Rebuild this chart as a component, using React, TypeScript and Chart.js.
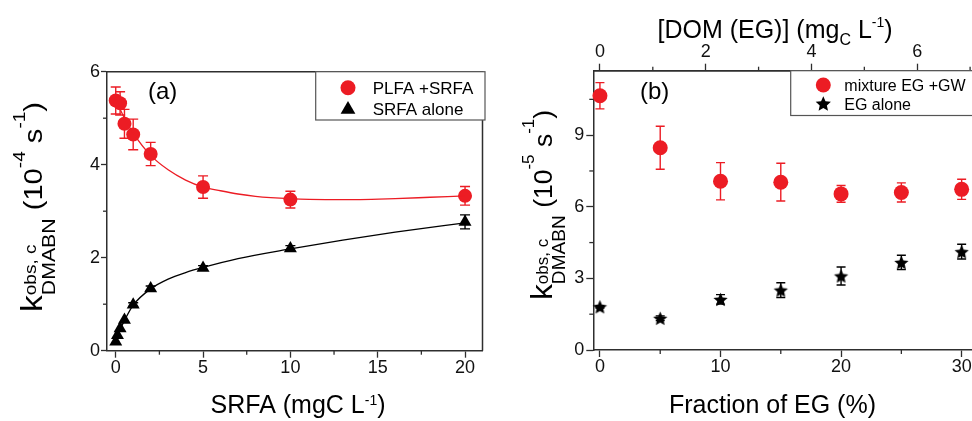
import { useEffect, useRef } from 'react';
import { Chart, registerables } from 'chart.js';

Chart.register(...registerables);

const FONT = '"Liberation Sans", Arial, Helvetica, sans-serif';
Chart.defaults.font.family = FONT;
Chart.defaults.color = '#111';

const RED = '#EC1C24';
const INK = '#000000';
const AXIS = '#2e2e2e';
const H = 421;

// ---------- Panel (a) ----------
const A_PLFA_X = [0, 0.25, 0.5, 1, 2, 5, 10, 20];
const A_PLFA_Y = [5.38, 5.32, 4.88, 4.65, 4.23, 3.52, 3.25, 3.33];
const A_PLFA_ERR = [0.29, 0.25, 0.31, 0.33, 0.25, 0.24, 0.18, 0.2];
const A_SRFA_X = [0, 0.1, 0.25, 0.5, 1, 2, 5, 10, 20];
const A_SRFA_Y = [0.19, 0.33, 0.48, 0.66, 0.99, 1.34, 1.78, 2.2, 2.77];
const A_SRFA_ERR = [0, 0, 0, 0, 0.04, 0.05, 0.05, 0.06, 0.15];
const A_FIT_RED_X = [0, 0.5, 1, 2, 3, 4, 5, 6, 7, 8, 10, 12, 14, 16, 18, 20];
const A_FIT_RED_Y = [5.4, 5.0, 4.68, 4.2, 3.89, 3.67, 3.52, 3.44, 3.37, 3.32, 3.27, 3.25, 3.25, 3.27, 3.3, 3.33];
const A_FIT_BLK_X = [0, 0.25, 0.5, 1, 2, 3, 4, 5, 7, 10, 13, 16, 20];
const A_FIT_BLK_Y = [0.17, 0.45, 0.65, 0.98, 1.33, 1.54, 1.68, 1.79, 1.98, 2.19, 2.38, 2.55, 2.75];
const A_X_TICKS = [0, 5, 10, 15, 20];
const A_X_MINOR = [2.5, 7.5, 12.5, 17.5];
const A_Y_TICKS = [0, 2, 4, 6];
const A_Y_MINOR = [1, 3, 5];

// ---------- Panel (b) ----------
const B_FRACTION = [0, 5, 10, 15, 20, 25, 30];
const B_MIX_Y = [10.65, 8.47, 7.07, 7.03, 6.54, 6.6, 6.73];
const B_MIX_ERR = [0.55, 0.9, 0.78, 0.79, 0.35, 0.4, 0.42];
const B_EG_Y = [1.81, 1.33, 2.12, 2.51, 3.1, 3.67, 4.12];
const B_EG_ERR = [0.05, 0.1, 0.2, 0.31, 0.38, 0.3, 0.31];
const B_X_TICKS = [0, 10, 20, 30];
const B_X_MINOR = [5, 15, 25];
const B_Y_TICKS = [0, 3, 6, 9];
const B_Y_MINOR = [1.5, 4.5, 7.5, 10.5];
const B_TOP_TICKS = [0, 2, 4, 6];
const B_TOP_MINOR = [1, 3, 5, 7];
const B_TOP_RATIO = 0.228; // mgC/L of DOM per % of EG

const pts = (xs: number[], ys: number[]) => xs.map((x, i) => ({ x, y: ys[i] }));

function starPath(ctx: CanvasRenderingContext2D, cx: number, cy: number, R: number, r: number) {
  ctx.beginPath();
  for (let i = 0; i < 10; i++) {
    const ang = -Math.PI / 2 + (i * Math.PI) / 5;
    const rad = i % 2 === 0 ? R : r;
    const px = cx + rad * Math.cos(ang);
    const py = cy + rad * Math.sin(ang);
    if (i === 0) ctx.moveTo(px, py);
    else ctx.lineTo(px, py);
  }
  ctx.closePath();
}

function makeStar(R: number, color: string) {
  const size = Math.ceil(R * 2 + 2);
  const c = document.createElement('canvas');
  c.width = size;
  c.height = size;
  const ctx = c.getContext('2d')!;
  starPath(ctx, size / 2, size / 2 + R * 0.1, R, R * 0.47);
  ctx.fillStyle = color;
  ctx.fill();
  return c;
}

type Seg =
  | { t: string; size: number; dy?: number }
  | { sup: string; sub: string; supSize: number; subSize: number; supDy: number; subDy: number };

function drawRich(ctx: CanvasRenderingContext2D, segs: Seg[], x: number, y: number, rot: number, sx: number) {
  ctx.save();
  ctx.translate(x, y);
  ctx.rotate(rot);
  ctx.scale(sx, 1);
  ctx.textAlign = 'left';
  ctx.textBaseline = 'alphabetic';
  ctx.fillStyle = '#000';
  const widths = segs.map((s: any) => {
    if ('t' in s) {
      ctx.font = `${s.size}px ${FONT}`;
      return ctx.measureText(s.t).width;
    }
    ctx.font = `${s.supSize}px ${FONT}`;
    const a = ctx.measureText(s.sup).width;
    ctx.font = `${s.subSize}px ${FONT}`;
    const b = ctx.measureText(s.sub).width;
    return Math.max(a, b);
  });
  const total = widths.reduce((p, c) => p + c, 0);
  let cx = -total / 2;
  segs.forEach((s: any, i) => {
    if ('t' in s) {
      ctx.font = `${s.size}px ${FONT}`;
      ctx.fillText(s.t, cx, s.dy || 0);
    } else {
      ctx.font = `${s.supSize}px ${FONT}`;
      ctx.fillText(s.sup, cx, s.supDy);
      ctx.font = `${s.subSize}px ${FONT}`;
      ctx.fillText(s.sub, cx, s.subDy);
    }
    cx += widths[i];
  });
  ctx.restore();
}

function drawMarker(ctx: CanvasRenderingContext2D, kind: string, x: number, y: number, r: number, color: string) {
  ctx.save();
  ctx.fillStyle = color;
  if (kind === 'circle') {
    ctx.beginPath();
    ctx.arc(x, y, r, 0, Math.PI * 2);
    ctx.fill();
  } else if (kind === 'triangle') {
    ctx.beginPath();
    for (let i = 0; i < 3; i++) {
      const a = (i * 2 * Math.PI) / 3;
      const px = x + Math.sin(a) * r;
      const py = y - Math.cos(a) * r;
      if (i === 0) ctx.moveTo(px, py);
      else ctx.lineTo(px, py);
    }
    ctx.closePath();
    ctx.fill();
  } else {
    starPath(ctx, x, y + r * 0.1, r, r * 0.47);
    ctx.fill();
  }
  ctx.restore();
}

function decor(id: string, spec: any) {
  return {
    id,
    beforeDatasetsDraw(chart: any) {
      const ctx = chart.ctx;
      ctx.save();
      spec.errors.forEach((e: any) => {
        const ds = chart.data.datasets[e.ds];
        const xs = chart.scales.x;
        const ys = chart.scales.y;
        ctx.strokeStyle = e.color;
        ctx.lineWidth = 1.4;
        ds.data.forEach((p: any, i: number) => {
          const err = e.err[i];
          if (!err) return;
          const px = xs.getPixelForValue(p.x);
          const y1 = ys.getPixelForValue(p.y + err);
          const y2 = ys.getPixelForValue(p.y - err);
          ctx.beginPath();
          ctx.moveTo(px, y1);
          ctx.lineTo(px, y2);
          ctx.moveTo(px - e.cap, y1);
          ctx.lineTo(px + e.cap, y1);
          ctx.moveTo(px - e.cap, y2);
          ctx.lineTo(px + e.cap, y2);
          ctx.stroke();
        });
      });
      ctx.restore();
    },
    afterDraw(chart: any) {
      const ctx = chart.ctx;
      const ca = chart.chartArea;
      ctx.save();
      // frame
      ctx.strokeStyle = AXIS;
      ctx.lineWidth = 1.5;
      ctx.beginPath();
      ctx.moveTo(ca.left, ca.top);
      ctx.lineTo(ca.right, ca.top);
      ctx.lineTo(ca.right, ca.bottom);
      ctx.stroke();
      // minor ticks
      ctx.lineWidth = 1.3;
      spec.minor.forEach((m: any) => {
        const s = chart.scales[m.axis];
        m.values.forEach((v: number) => {
          const p = s.getPixelForValue(v);
          ctx.beginPath();
          if (m.axis === 'y') {
            ctx.moveTo(s.right, p);
            ctx.lineTo(s.right - m.len, p);
          } else if (s.position === 'top') {
            ctx.moveTo(p, s.bottom);
            ctx.lineTo(p, s.bottom - m.len);
          } else {
            ctx.moveTo(p, s.top);
            ctx.lineTo(p, s.top + m.len);
          }
          ctx.stroke();
        });
      });
      // legend
      const L = spec.legend;
      ctx.fillStyle = '#fff';
      ctx.fillRect(L.box[0], L.box[1], L.box[2] - L.box[0], L.box[3] - L.box[1]);
      ctx.strokeStyle = '#555';
      ctx.lineWidth = 1.2;
      ctx.strokeRect(L.box[0], L.box[1], L.box[2] - L.box[0], L.box[3] - L.box[1]);
      L.items.forEach((it: any) => {
        drawMarker(ctx, it.marker, it.mx, it.my, it.r, it.color);
        ctx.fillStyle = '#000';
        ctx.font = `${L.font}px ${FONT}`;
        ctx.textAlign = 'left';
        ctx.textBaseline = 'alphabetic';
        ctx.fillText(it.text, it.tx, it.ty);
      });
      // panel label
      ctx.font = `${spec.label.size}px ${FONT}`;
      ctx.fillStyle = '#000';
      ctx.textAlign = 'left';
      ctx.textBaseline = 'alphabetic';
      ctx.fillText(spec.label.text, spec.label.x, spec.label.y);
      // titles
      spec.titles.forEach((t: any) => drawRich(ctx, t.segs, t.x, t.y, t.rot, t.sx));
      ctx.restore();
    },
  };
}

function axis(min: number, max: number, ticks: number[], fit: (s: any) => void, position: string, pad: number, tickLen: number) {
  return {
    type: 'linear',
    position,
    min,
    max,
    afterBuildTicks: (s: any) => {
      s.ticks = ticks.map((v) => ({ value: v }));
    },
    afterFit: fit,
    grid: { display: true, drawOnChartArea: false, drawTicks: true, tickLength: tickLen, tickWidth: 1.3, tickColor: AXIS, color: AXIS },
    border: { display: true, color: AXIS, width: 1.5 },
    ticks: { font: { family: FONT, size: 18 }, color: '#111', padding: pad, maxRotation: 0, autoSkip: false },
  };
}

function configA(): any {
  const spec = {
    minor: [
      { axis: 'x', values: A_X_MINOR, len: 4 },
      { axis: 'y', values: A_Y_MINOR, len: 4 },
    ],
    errors: [
      { ds: 2, err: A_PLFA_ERR, cap: 5, color: RED },
      { ds: 3, err: A_SRFA_ERR, cap: 5, color: INK },
    ],
    legend: {
      box: [315.7, 71.7, 485, 120],
      font: 17,
      items: [
        { marker: 'circle', color: RED, mx: 348, my: 87.7, r: 7.5, tx: 372.7, ty: 93.5, text: 'PLFA +SRFA' },
        { marker: 'triangle', color: INK, mx: 348, my: 109.5, r: 8.5, tx: 372.7, ty: 115, text: 'SRFA alone' },
      ],
    },
    label: { text: '(a)', x: 148, y: 99, size: 24 },
    titles: [
      {
        segs: [{ t: 'SRFA (mgC L', size: 25 }, { t: '-1', size: 14, dy: -8 }, { t: ')', size: 25 }],
        x: 298, y: 413, rot: 0, sx: 1,
      },
      {
        segs: [
          { t: 'k', size: 30 },
          { sup: 'obs, c', sub: 'DMABN', supSize: 17, subSize: 19, supDy: -6, subDy: 13 },
          { t: ' (10', size: 26 },
          { t: '-4', size: 17, dy: -17 },
          { t: ' s', size: 26 },
          { t: '-1', size: 17, dy: -17 },
          { t: ')', size: 26 },
        ],
        x: 41.5, y: 207, rot: -Math.PI / 2, sx: 1.12,
      },
    ],
  };
  return {
    type: 'scatter',
    data: {
      datasets: [
        { data: pts(A_FIT_RED_X, A_FIT_RED_Y), showLine: true, borderColor: RED, borderWidth: 1.3, pointRadius: 0, cubicInterpolationMode: 'monotone', clip: false },
        { data: pts(A_FIT_BLK_X, A_FIT_BLK_Y), showLine: true, borderColor: INK, borderWidth: 1.3, pointRadius: 0, cubicInterpolationMode: 'monotone', clip: false },
        { label: 'PLFA +SRFA', data: pts(A_PLFA_X, A_PLFA_Y), pointStyle: 'circle', pointRadius: 7, backgroundColor: RED, borderColor: RED, borderWidth: 0, clip: false },
        { label: 'SRFA alone', data: pts(A_SRFA_X, A_SRFA_Y), pointStyle: 'triangle', pointRadius: 7.5, backgroundColor: INK, borderColor: INK, borderWidth: 0, clip: false },
      ],
    },
    options: {
      animation: false,
      responsive: false,
      devicePixelRatio: 1,
      layout: { padding: { left: 0, right: 5, top: 71.7, bottom: 0 } },
      plugins: { legend: { display: false }, tooltip: { enabled: false } },
      scales: {
        x: axis(-0.5, 21, A_X_TICKS, (s: any) => { s.height = H - 350.7; }, 'bottom', 0, 7),
        y: axis(0, 6, A_Y_TICKS, (s: any) => { s.width = 107; }, 'left', 1, 6),
      },
    },
    plugins: [decor('decorA', spec)],
  };
}

function configB(): any {
  const OFF = 486;
  const xMin = -0.55;
  const xMax = 31.2;
  const spec = {
    minor: [
      { axis: 'x', values: B_X_MINOR, len: 4 },
      { axis: 'x2', values: B_TOP_MINOR, len: 4 },
      { axis: 'y', values: B_Y_MINOR, len: 4 },
    ],
    errors: [
      { ds: 0, err: B_MIX_ERR, cap: 4.5, color: RED },
      { ds: 1, err: B_EG_ERR, cap: 4.5, color: INK },
    ],
    legend: {
      box: [790.7 - OFF, 70.7, 520, 115.5],
      font: 16,
      items: [
        { marker: 'circle', color: RED, mx: 823.3 - OFF, my: 85, r: 7.5, tx: 844.3 - OFF, ty: 91, text: 'mixture EG +GW' },
        { marker: 'star', color: INK, mx: 823.3 - OFF, my: 103.5, r: 8, tx: 844.3 - OFF, ty: 110, text: 'EG alone' },
      ],
    },
    label: { text: '(b)', x: 640 - OFF, y: 99, size: 24 },
    titles: [
      {
        segs: [{ t: 'Fraction of EG (%)', size: 25 }],
        x: 772.5 - OFF, y: 413, rot: 0, sx: 1,
      },
      {
        segs: [
          { t: '[DOM (EG)] (mg', size: 25 },
          { t: 'C', size: 16, dy: 6.7 },
          { t: ' L', size: 25 },
          { t: '-1', size: 14, dy: -11.6 },
          { t: ')', size: 25 },
        ],
        x: 775 - OFF, y: 38.3, rot: 0, sx: 1,
      },
      {
        segs: [
          { t: 'k', size: 30 },
          { sup: 'obs, c', sub: 'DMABN', supSize: 16, subSize: 18, supDy: -4, subDy: 13 },
          { t: ' (10', size: 25 },
          { t: '-5', size: 16, dy: -18 },
          { t: ' s', size: 25 },
          { t: '-1', size: 16, dy: -18 },
          { t: ')', size: 25 },
        ],
        x: 552 - OFF, y: 205, rot: -Math.PI / 2, sx: 1.06,
      },
    ],
  };
  return {
    type: 'scatter',
    data: {
      datasets: [
        { label: 'mixture EG +GW', data: pts(B_FRACTION, B_MIX_Y), pointStyle: 'circle', pointRadius: 7.5, backgroundColor: RED, borderColor: RED, borderWidth: 0, clip: false },
        { label: 'EG alone', data: pts(B_FRACTION, B_EG_Y), pointStyle: makeStar(7.5, INK), pointRadius: 7.5, backgroundColor: INK, borderColor: INK, borderWidth: 0, clip: false },
      ],
    },
    options: {
      animation: false,
      responsive: false,
      devicePixelRatio: 1,
      layout: { padding: { left: 0, right: 500 - (xMax - xMin) * 12.057 - 107.3, top: 0, bottom: 0 } },
      plugins: { legend: { display: false }, tooltip: { enabled: false } },
      scales: {
        x: axis(xMin, xMax, B_X_TICKS, (s: any) => { s.height = H - 350; }, 'bottom', -1, 7),
        x2: axis(xMin * B_TOP_RATIO, xMax * B_TOP_RATIO, B_TOP_TICKS, (s: any) => { s.height = 70.7; }, 'top', 1.2, 7),
        y: axis(0, 11.7, B_Y_TICKS, (s: any) => { s.width = 107.3; }, 'left', 2, 7),
      },
    },
    plugins: [decor('decorB', spec)],
  };
}

function Panel({ left, width, make }: { left: number; width: number; make: () => any }) {
  const ref = useRef<HTMLCanvasElement>(null);
  useEffect(() => {
    const chart = new Chart(ref.current as HTMLCanvasElement, make());
    return () => chart.destroy();
  }, []);
  return (
    <canvas
      ref={ref}
      width={width}
      height={H}
      style={{ position: 'absolute', left, top: 0, width, height: H }}
    />
  );
}

export default function App() {
  return (
    <div style={{ position: 'absolute', left: 0, top: 0, width: 972, height: H, overflow: 'hidden', background: '#fff' }}>
      <Panel left={0} width={490} make={configA} />
      <Panel left={486} width={500} make={configB} />
    </div>
  );
}
